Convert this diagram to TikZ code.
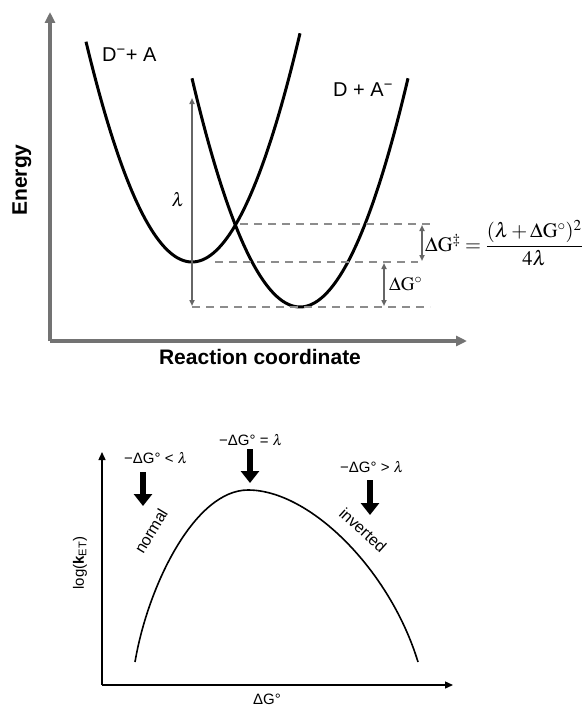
\documentclass[tikz,border=0pt]{standalone}
\usepackage{amsmath}
\usepackage{mathptmx}
\usepackage{fontspec}
\setmainfont{Liberation Serif}
\setsansfont{Liberation Sans}
\usetikzlibrary{arrows.meta}

\begin{document}
\begin{tikzpicture}[x=1pt,y=-1pt,
  axis/.style={black!55,line width=3.5pt,-{Triangle[length=11pt,width=10pt]}},
  lowaxis/.style={black,line width=1.4pt,-{Triangle[length=8pt,width=7pt]}},
  well/.style={black,line width=3pt},
  rate/.style={black,line width=1.6pt},
  level/.style={black!45,line width=1.4pt,dash pattern=on 8pt off 6pt},
  gap/.style={black!60,line width=1.5pt,{Triangle[length=6pt,width=5pt]}-{Triangle[length=6pt,width=5pt]}},
  push/.style={black,line width=6pt,-{Triangle[length=12pt,width=18pt]}},
  title/.style={inner sep=0pt,font=\fontsize{21}{24}\selectfont\sffamily\bfseries},
  state/.style={inner sep=0pt,font=\fontsize{20}{24}\selectfont\sffamily},
  sym/.style={inner sep=0pt,font=\fontsize{19}{22}\selectfont},
  cond/.style={inner sep=0pt,font=\fontsize{15}{18}\selectfont},
  regime/.style={inner sep=0pt,font=\fontsize{16}{18}\selectfont\sffamily}
]
\useasboundingbox (0,0) rectangle (586,709);

\coordinate (eO) at (50,341);
\coordinate (eY) at (50,12);
\coordinate (eX) at (467,341);
\draw[axis] (eO) -- (eY);
\draw[axis] (eO) -- (eX);
\node[title,rotate=90] (energy) at (22,180) {Energy};
\node[title] (rc) at (260,357) {Reaction coordinate};

\draw[well] plot[domain=86:300,samples=80] (\x,{262-0.0196*(\x-192)^2});
\draw[well] plot[domain=192:408,samples=80] (\x,{307-0.0196*(\x-300)^2});
\node[state,anchor=west] (donor) at (102,55) {D\textsuperscript{−}+ A};
\node[state,anchor=west] (acceptor) at (333,90) {D + A\textsuperscript{−}};

\coordinate (cross) at (240,224);
\coordinate (crossR) at (432,224);
\coordinate (minA) at (215,262);
\coordinate (minAR) at (418,262);
\coordinate (minB) at (192,307);
\coordinate (minBR) at (430,307);
\draw[level] (cross) -- (crossR);
\draw[level] (minA) -- (minAR);
\draw[level] (minB) -- (minBR);

\coordinate (lamT) at (192,98);
\coordinate (lamB) at (192,306);
\draw[gap] (lamT) -- (lamB);
\node[sym] (lam) at (178,200) {$\lambda$};

\coordinate (actT) at (422,225);
\coordinate (actB) at (422,261);
\draw[gap] (actT) -- (actB);
\node[sym,anchor=west,font=\fontsize{20.5}{24}\selectfont] (dgact) at (425,243) {$\Delta\mathrm{G}^{\ddagger}=\dfrac{(\lambda+\Delta\mathrm{G}^{\circ})^{2}}{4\lambda}$};

\coordinate (drT) at (384,263);
\coordinate (drB) at (384,306);
\draw[gap] (drT) -- (drB);
\node[sym,anchor=west] (dg) at (389,284) {$\Delta\mathrm{G}^{\circ}$};

\coordinate (kO) at (102,685);
\coordinate (kY) at (102,452);
\coordinate (kX) at (453,685);
\draw[lowaxis] (kO) -- (kY);
\draw[lowaxis] (kO) -- (kX);
\node[cond,rotate=90] (logk) at (80,563) {\sffamily log(\textbf{k}\textsubscript{ET})};
\node[cond] (dgx) at (267,699) {\sffamily ΔG°};

\coordinate (rL) at (135,662);
\coordinate (rP) at (248,490);
\coordinate (rR) at (418,662);
\draw[rate] (rL) .. controls (148,585) and (195,490) .. (rP)
  .. controls (310,490) and (390,570) .. (rR);
\node[regime,rotate=59] (normal) at (151,531) {normal};
\node[regime,rotate=-42] (inverted) at (363,530) {inverted};

\node[cond] (low) at (156,458) {\sffamily −ΔG° < $\lambda$};
\node[cond] (top) at (251,440) {\sffamily −ΔG° = $\lambda$};
\node[cond] (high) at (372,467) {\sffamily −ΔG° > $\lambda$};
\coordinate (lowS) at (143,472);
\coordinate (lowE) at (143,506);
\coordinate (topS) at (250,449);
\coordinate (topE) at (250,483);
\coordinate (highS) at (370,480);
\coordinate (highE) at (370,515);
\draw[push] (lowS) -- (lowE);
\draw[push] (topS) -- (topE);
\draw[push] (highS) -- (highE);
\end{tikzpicture}
\end{document}
